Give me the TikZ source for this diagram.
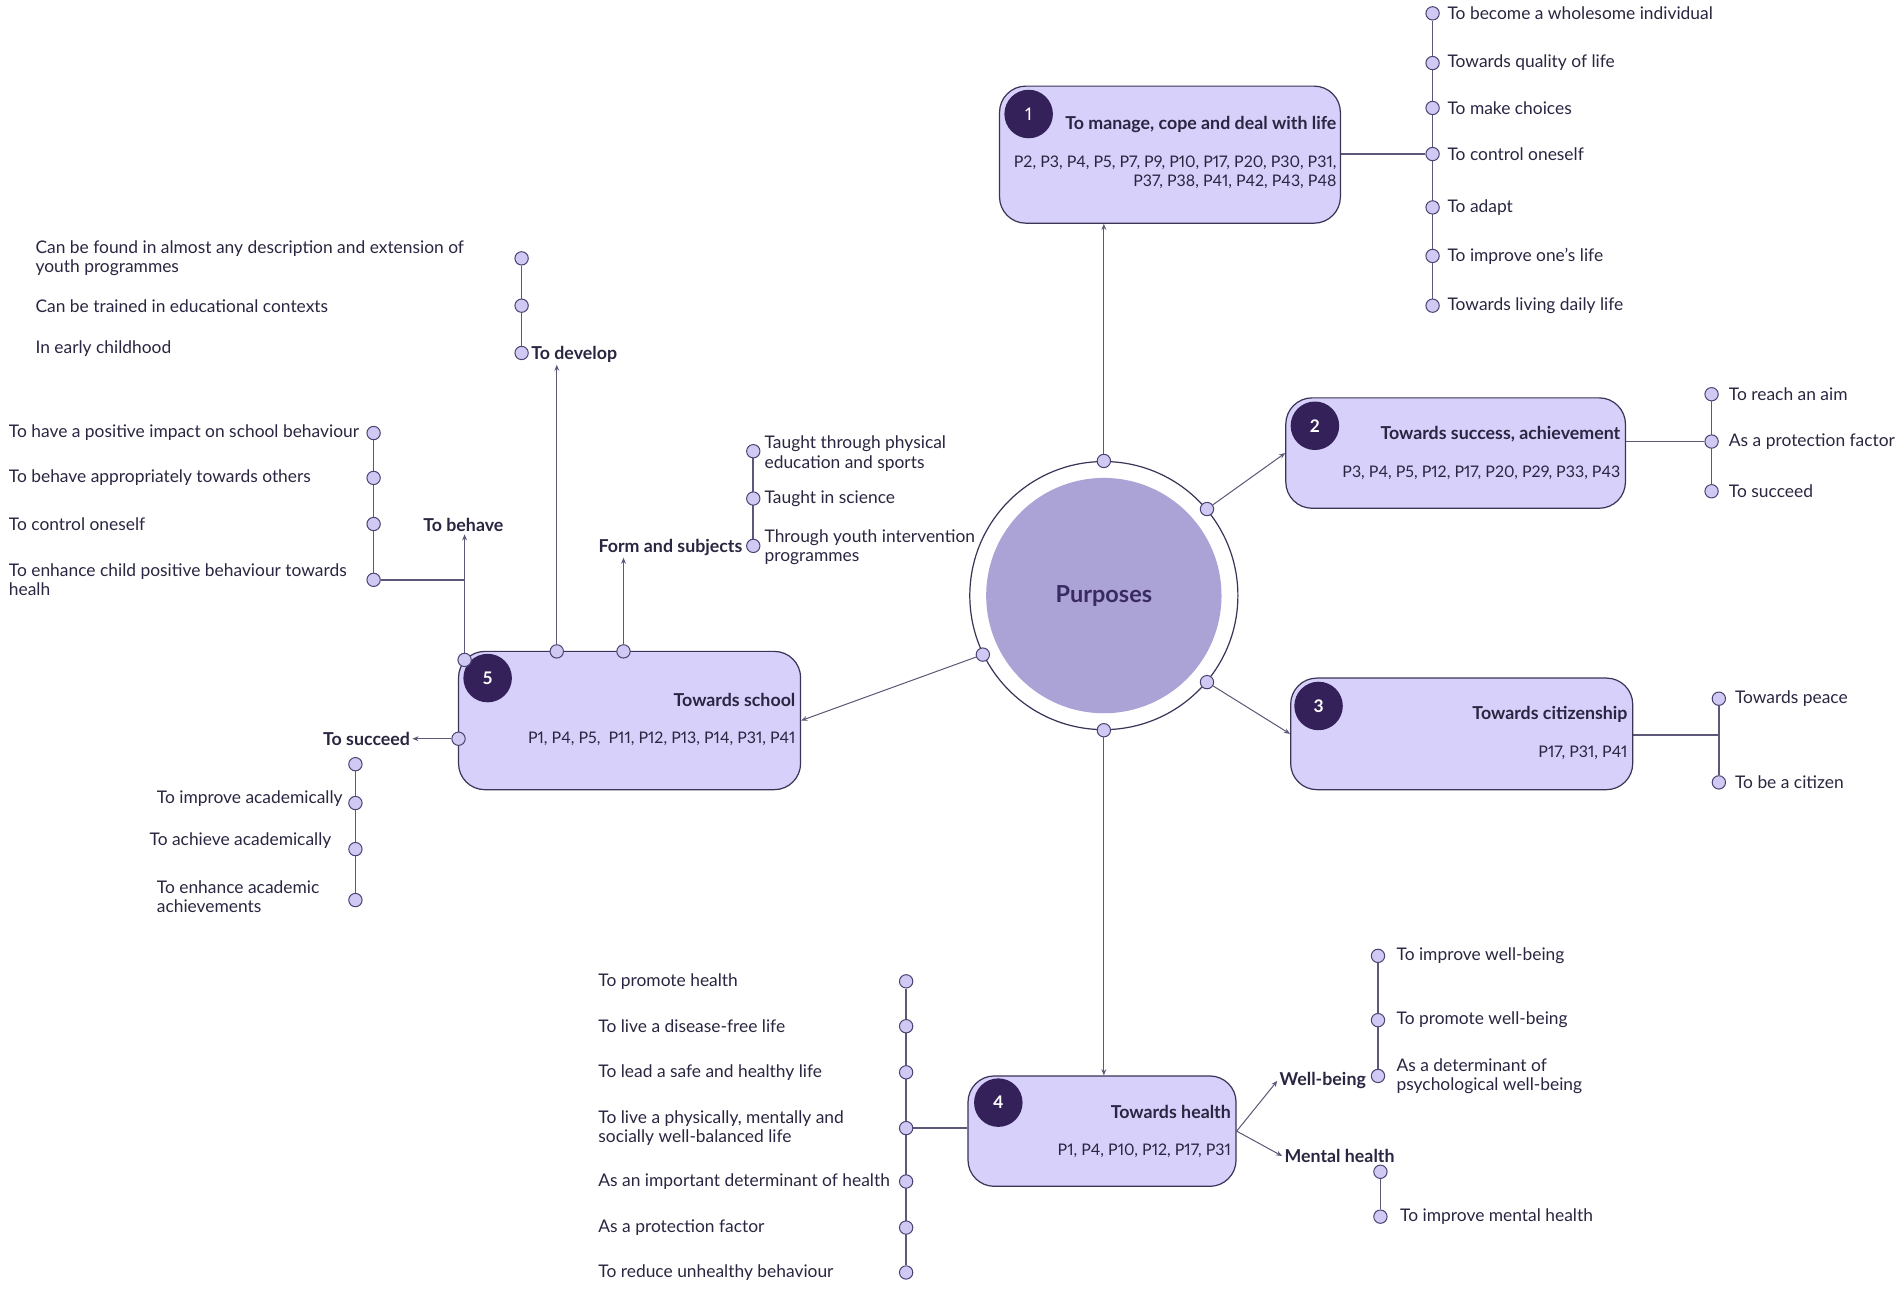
\documentclass[tikz,border=0pt]{standalone}
\usepackage{fontspec}
\setmainfont{Lato}[Numbers=Proportional]
\usetikzlibrary{positioning,arrows.meta,calc,backgrounds}

\definecolor{boxfill}{HTML}{D6D0FA}
\definecolor{boxline}{HTML}{3D3357}
\definecolor{badgefill}{HTML}{35215A}
\definecolor{ink}{HTML}{2A2540}
\definecolor{dotfill}{HTML}{CFC9F4}
\definecolor{dotline}{HTML}{4B4472}
\definecolor{linecol}{HTML}{5E5778}
\definecolor{core}{HTML}{ABA2D6}
\definecolor{coretext}{HTML}{3A2A63}

\newcommand\itemfont{\fontsize{8.6}{9.6}\selectfont}
\newcommand\ttlfont{\fontsize{8.8}{9.6}\selectfont\bfseries}
\newcommand\reffont{\fontsize{7.9}{9.8}\selectfont}

\tikzset{
  purpbox/.style={draw=boxline, fill=boxfill, rounded corners=13pt, line width=0.6pt},
  badge/.style={circle, fill=badgefill, text=white, minimum size=24pt, inner sep=0pt, font=\itemfont\bfseries},
  ttl/.style={font=\ttlfont, text=ink, inner sep=0pt},
  refs/.style={font=\reffont, text=ink, align=right, inner sep=0pt},
  item/.style={font=\itemfont, text=ink, align=left, inner sep=0pt, anchor=west},
  lab/.style={font=\ttlfont, text=ink, inner sep=1pt},
  dot/.style={circle, draw=dotline, fill=dotfill, line width=0.5pt, minimum size=6.6pt, inner sep=0pt},
  link/.style={draw=linecol, line width=0.8pt},
  arr/.style={draw=linecol, line width=0.5pt, -{Stealth[length=3pt,width=2.4pt]}},
}

\begin{document}
\begin{tikzpicture}[x=0.6pt, y=-0.6pt]
\useasboundingbox (0,0) rectangle (1568,1063.5);

% boxes
\node[purpbox, minimum width=281*0.6pt, minimum height=113*0.6pt] (b1) at (964.5,127.5) {};
\node[purpbox, minimum width=280*0.6pt, minimum height=91*0.6pt] (b2) at (1200,373.5) {};
\node[purpbox, minimum width=282*0.6pt, minimum height=92*0.6pt] (b3) at (1205,605) {};
\node[purpbox, minimum width=221*0.6pt, minimum height=91*0.6pt] (b4) at (908.5,932.5) {};
\node[purpbox, minimum width=282*0.6pt, minimum height=114*0.6pt] (b5) at (519,594) {};

\node[badge, font=\itemfont] (n1) at (848,94) {1};
\node[badge] (n2) at (1084,351) {2};
\node[badge] (n3) at (1087,582) {3};
\node[badge] (n4) at (823,909) {4};
\node[badge] (n5) at (402,559) {5};

\node[ttl, anchor=east] (t1) at (1102,103) {To manage, cope and deal with life};
\node[refs, anchor=east] (p1) at (1102,142) {P2, P3, P4, P5, P7, P9, P10, P17, P20, P30, P31,\\P37, P38, P41, P42, P43, P48};
\node[ttl, anchor=east] (t2) at (1336,358) {Towards success, achievement};
\node[refs, anchor=east] (p2) at (1336,390) {P3, P4, P5, P12, P17, P20, P29, P33, P43};
\node[ttl, anchor=east] (t3) at (1342,589) {Towards citizenship};
\node[refs, anchor=east] (p3) at (1342,621) {P17, P31, P41};
\node[ttl, anchor=east] (t4) at (1015,917) {Towards health};
\node[refs, anchor=east] (p4) at (1015,949) {P1, P4, P10, P12, P17, P31};
\node[ttl, anchor=east] (t5) at (656,577) {Towards school};
\node[refs, anchor=east] (p5) at (656,609) {P1, P4, P5,~ P11, P12, P13, P14, P31, P41};

% centre
\node[circle, draw=boxline, fill=white, line width=0.6pt, minimum size=221*0.6pt] (pc) at (910,491) {};
\node[circle, fill=core, minimum size=194*0.6pt, text=coretext, font=\fontsize{11.6}{13}\selectfont\bfseries] (pi) at (pc) {Purposes};
\node[dot] (r1) at (pc.90) {};
\node[dot] (r2) at (pc.40) {};
\node[dot] (r3) at (pc.-40) {};
\node[dot] (r4) at (pc.-90) {};
\node[dot] (r5) at (pc.206) {};

% list 1
\foreach \y/\t [count=\i] in {11/To become a wholesome individual, 52/Towards quality of life, 89/To make choices, 127/To control oneself, 171/To adapt, 211/To improve one's life, 252/Towards living daily life}{
  \node[dot] (la-\i) at (1181,\y) {};
  \node[item] at (1193,\y) {\t};
}
% list 2
\foreach \y/\t [count=\i] in {325/To reach an aim, 364/As a protection factor, 405/To succeed}{
  \node[dot] (lb-\i) at (1411,\y) {};
  \node[item] at (1425,\y) {\t};
}
% list 3
\foreach \y/\t [count=\i] in {576/Towards peace, 645/To be a citizen}{
  \node[dot] (lc-\i) at (1417,\y) {};
  \node[item] at (1430,\y) {\t};
}
\coordinate (jc) at (1417,606);
% list 4
\foreach \y/\t [count=\i] in {809/To promote health, 846/To live a disease-free life, 884/To lead a safe and healthy life, 930/{To live a physically, mentally and\\socially well-balanced life}, 974/As an important determinant of health, 1012/As a protection factor, 1049/To reduce unhealthy behaviour}{
  \node[dot] (ld-\i) at (747,\y) {};
  \node[item] at (493,\y) {\t};
}
% well-being, mental health
\node[lab, anchor=west] (wb) at (1053,891) {Well-being};
\node[lab, anchor=west] (mh) at (1057,953) {Mental health};
\foreach \y/\t [count=\i] in {788/To improve well-being, 841/To promote well-being, 887/As a determinant of\\psychological well-being}{
  \node[dot] (lw-\i) at (1136,\y) {};
  \node[item] at (1151,\y) {\t};
}
\node[dot] (lm-1) at (1138,966) {};
\node[dot] (lm-2) at (1138,1003) {};
\node[item] at (1154,1003) {To improve mental health};

% school branches
\node[dot] (s1) at (459,537) {};
\node[dot] (s2) at (514,537) {};
\node[dot] (s3) at (383,544) {};
\node[dot] (s4) at (378,609) {};
\node[lab, anchor=west] (dev) at (436,292) {To develop};
\node[lab, anchor=east] (fs) at (614,451) {Form and subjects};
\node[lab] (beh) at (382,433) {To behave};
\node[lab, anchor=east] (sc) at (340,609) {To succeed};

\foreach \y/\ty/\t [count=\i] in {213/213/Can be found in almost any description and extension of\\youth programmes, 252/252/Can be trained in educational contexts, 291/287/In early childhood}{
  \node[dot] (le-\i) at (430,\y) {};
  \node[item] at (29,\ty) {\t};
}
\foreach \y/\t [count=\i] in {357/To have a positive impact on school behaviour, 394/To behave appropriately towards others, 432/To control oneself, 478/To enhance child positive behaviour towards\\healh}{
  \node[dot] (lf-\i) at (308,\y) {};
  \node[item] at (7,\y) {\t};
}
\foreach \y/\ty/\t [count=\i] in {372/374/Taught through physical\\education and sports, 411/411/Taught in science, 450/451/Through youth intervention\\programmes}{
  \node[dot] (lg-\i) at (621,\y) {};
  \node[item] at (630,\ty) {\t};
}
\foreach \y/\x/\ty/\t [count=\i] in {630/129/630/{}, 662/129/658/To improve academically, 700/123/693/To achieve academically, 742/129/739/To enhance academic\\achievements}{
  \node[dot] (lh-\i) at (293,\y) {};
  \node[item] at (\x,\ty) {\t};
}

% connectors
\begin{scope}[on background layer]
\draw[arr] (r1) -- (r1 |- b1.south);
\draw[arr] (r2) -- (b2.west);
\draw[arr] (r3) -- (b3.west);
\draw[arr] (r4) -- (r4 |- b4.north);
\draw[arr] (r5) -- (b5.east);

\draw[link] (la-1) -- (la-7);
\draw[link] (b1.east |- la-4) -- (la-4);
\draw[link] (lb-1) -- (lb-3);
\draw[link] (b2.east |- lb-2) -- (lb-2);
\draw[link] (lc-1) -- (lc-2);
\draw[link] (b3.east |- jc) -- (jc);
\draw[link] (ld-1) -- (ld-7);
\draw[link] (b4.west |- ld-4) -- (ld-4);

\draw[arr] (b4.east) -- (wb.west);
\draw[arr] (b4.east) -- (mh.west);
\draw[link] (lw-1) -- (lw-3);
\draw[link] (lm-1) -- (lm-2);

\draw[arr] (s1) -- (s1 |- dev.south);
\draw[arr] (s2) -- (s2 |- fs.south);
\draw[arr] (s3) -- (s3 |- beh.south);
\draw[arr] (s4) -- (sc.east);
\draw[link] (le-1) -- (le-3);
\draw[link] (lf-1) -- (lf-4);
\draw[link] (lf-4) -- (lf-4 -| s3);
\draw[link] (lg-1) -- (lg-3);
\draw[link] (lh-1) -- (lh-4);
\end{scope}
\end{tikzpicture}
\end{document}
